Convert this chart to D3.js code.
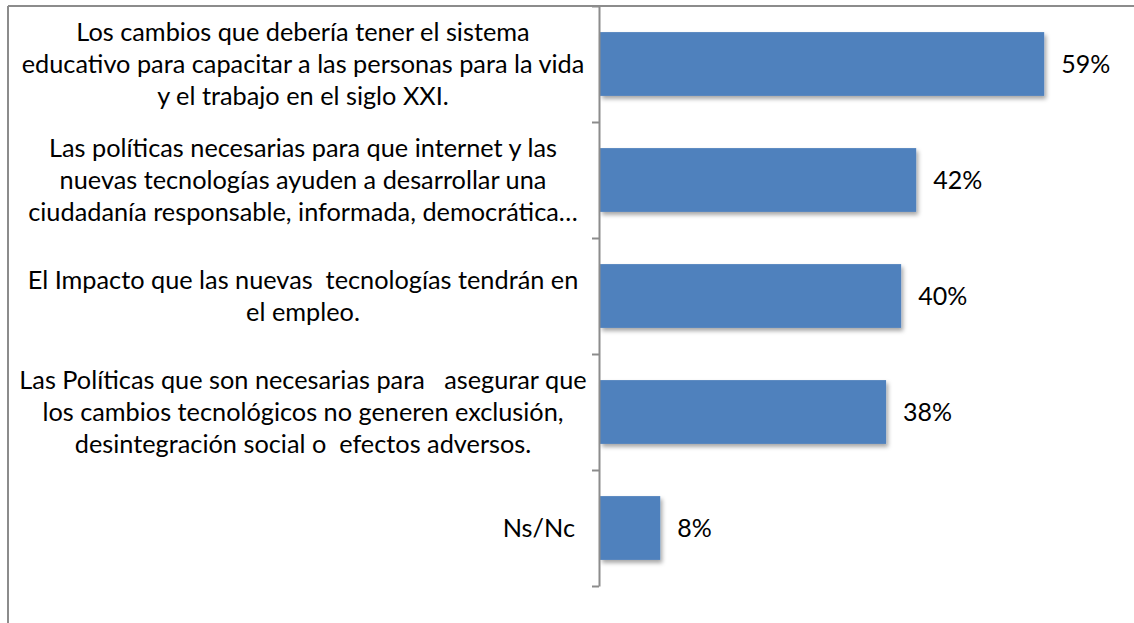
<!DOCTYPE html>
<html>
<head>
<meta charset="utf-8">
<script src="https://cdn.jsdelivr.net/npm/d3@7"></script>
<style>
  html, body { margin: 0; padding: 0; background: #fff; }
  svg { display: block; }
</style>
</head>
<body>
<svg id="chart" width="1134" height="623"></svg>
<script>
const categories = [
  "Los cambios que debería tener el sistema\neducativo para capacitar a las personas para la vida\ny el trabajo en el siglo XXI.",
  "Las políticas necesarias para que internet y las\nnuevas tecnologías ayuden a desarrollar una\nciudadanía responsable, informada, democrática…",
  "El Impacto que las nuevas  tecnologías tendrán en\nel empleo.",
  "Las Políticas que son necesarias para   asegurar que\nlos cambios tecnológicos no generen exclusión,\ndesintegración social o  efectos adversos.",
  "Ns/Nc"
];
const values = [0.59, 0.42, 0.40, 0.38, 0.08];
const valueLabels = ["59%", "42%", "40%", "38%", "8%"];

const svg = d3.select("#chart");
const W = 1134, H = 623;
const axisX = 599;
const plotTop = 6, plotBottom = 586;

const defs = svg.append("defs");
const f = defs.append("filter").attr("id", "shadow")
  .attr("x", "-10%").attr("y", "-20%").attr("width", "130%").attr("height", "150%");
f.append("feDropShadow").attr("dx", 2).attr("dy", 3).attr("stdDeviation", 2)
  .attr("flood-color", "#000").attr("flood-opacity", 0.35);

// frame
svg.append("line").attr("x1", 8).attr("x2", W).attr("y1", 6).attr("y2", 6)
  .attr("stroke", "#8c8c8c").attr("stroke-width", 2);
svg.append("line").attr("x1", 8).attr("x2", 8).attr("y1", 6).attr("y2", H)
  .attr("stroke", "#8c8c8c").attr("stroke-width", 2);

const y = d3.scaleBand().domain(categories).range([plotTop, plotBottom])
  .paddingInner(0.45).paddingOuter(0.225);
const x = d3.scaleLinear().domain([0, 0.7]).range([axisX + 1, 1127]);

// bars
svg.append("g").selectAll("rect").data(categories).join("rect")
  .attr("x", x(0))
  .attr("y", d => y(d))
  .attr("width", (d, i) => x(values[i]) - x(0))
  .attr("height", y.bandwidth())
  .attr("fill", "#4f81bd")
  .attr("filter", "url(#shadow)");

// axis with ticks at category boundaries
const tickScale = d3.scaleLinear().domain([0, categories.length]).range([plotTop, plotBottom]);
const axisG = svg.append("g").attr("transform", `translate(${axisX},0)`)
  .call(d3.axisLeft(tickScale).ticks(categories.length).tickFormat("").tickSize(7).tickSizeOuter(0));
axisG.select(".domain").attr("stroke", "#8c8c8c").attr("stroke-width", 2);
axisG.selectAll(".tick line").attr("stroke", "#8c8c8c").attr("stroke-width", 2);

// value labels
svg.append("g").selectAll("text").data(categories).join("text")
  .attr("x", (d, i) => x(values[i]) + 17)
  .attr("y", d => y(d) + y.bandwidth() / 2)
  .attr("dy", "0.36em")
  .attr("font-family", "Lato, sans-serif")
  .attr("font-size", 25)
  .attr("fill", "#000")
  .text((d, i) => valueLabels[i]);

// category labels
const lineH = 32;
const labelCenter = 303;
const lg = svg.append("g").attr("font-family", "Lato, sans-serif").attr("font-size", 25.3).attr("fill", "#000");
categories.forEach(c => {
  const lines = c.split("\n");
  const cy = y(c) + y.bandwidth() / 2;
  const single = lines.length === 1;
  const t = lg.append("text")
    .attr("text-anchor", single ? "end" : "middle")
    .attr("xml:space", "preserve")
    .style("white-space", "pre");
  lines.forEach((ln, k) => {
    t.append("tspan")
      .attr("x", single ? 575 : labelCenter)
      .attr("y", cy + (k - (lines.length - 1) / 2) * lineH)
      .attr("dy", "0.36em")
      .text(ln);
  });
});
</script>
</body>
</html>
